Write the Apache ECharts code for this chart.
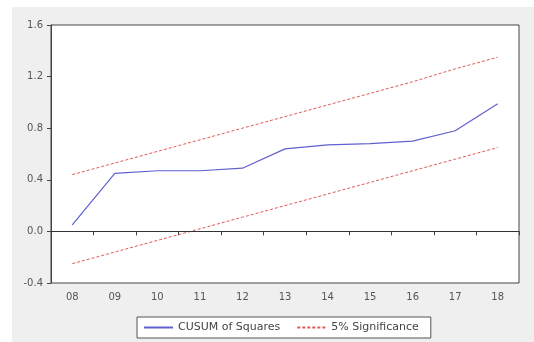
<!DOCTYPE html>
<html><head><meta charset="utf-8">
<script src="https://cdn.jsdelivr.net/npm/echarts@6/dist/echarts.min.js"></script>
<style>html,body{margin:0;padding:0;background:#fff;}#c{width:534px;height:342px;}</style>
</head><body><div id="c"></div>
<script>
const categories = ['08','09','10','11','12','13','14','15','16','17','18'];
const cusumSq = [0.05,0.45,0.47,0.47,0.49,0.64,0.67,0.68,0.70,0.78,0.99];
const upper = [0.44,0.53,0.62,0.71,0.80,0.89,0.98,1.07,1.16,1.26,1.35];
const lower = [-0.25,-0.16,-0.07,0.02,0.11,0.20,0.29,0.38,0.47,0.56,0.65];
const yTicks = {min:-0.4, max:1.6, interval:0.4};

const chart = echarts.init(document.getElementById('c'));
const font = 'DejaVu Sans, Verdana, sans-serif';
chart.setOption({
  animation:false,
  graphic:[{type:'rect',left:12,top:7,shape:{width:522,height:335},style:{fill:'#efefef'},z:-10}],
  grid:{left:51,right:15,top:25,bottom:59,show:true,backgroundColor:'#fff',borderColor:'#444',borderWidth:1},
  xAxis:{type:'category',data:categories,boundaryGap:true,
    axisLine:{lineStyle:{color:'#444',width:1}},
    axisTick:{show:true,inside:false,length:4,lineStyle:{color:'#444'}},
    axisLabel:{color:'#555',fontSize:10,fontFamily:font,margin:9}},
  yAxis:{type:'value',min:yTicks.min,max:yTicks.max,interval:yTicks.interval,
    axisLine:{show:true,lineStyle:{color:'#444',width:1}},
    axisTick:{show:true,inside:false,length:4,lineStyle:{color:'#444'}},
    splitLine:{show:false},
    axisLabel:{color:'#555',fontSize:10,fontFamily:font,margin:8,formatter:v=>v.toFixed(1)}},
  legend:{left:137,top:317,padding:[5,12,5,6],itemGap:16,
    borderColor:'#555',borderWidth:1,backgroundColor:'#fff',itemWidth:29,itemHeight:12,
    itemStyle:{opacity:0},
    textStyle:{fontSize:11,fontFamily:font,color:'#444'},
    data:['CUSUM of Squares','5% Significance']},
  series:[
    {name:'CUSUM of Squares',type:'line',data:cusumSq,symbol:'none',
      lineStyle:{color:'#6060d0',width:1.2},itemStyle:{color:'#6060d0'},
      markLine:{silent:true,symbol:'none',label:{show:false},lineStyle:{color:'#333',type:'solid',width:1},data:[{yAxis:0}]}},
    {name:'5% Significance',type:'line',data:upper,symbol:'none',
      lineStyle:{color:'#e05a5a',width:1,type:[3,2]},itemStyle:{color:'#e05a5a'}},
    {name:'5% Significance',type:'line',data:lower,symbol:'none',
      lineStyle:{color:'#e05a5a',width:1,type:[3,2]},itemStyle:{color:'#e05a5a'}}
  ]
});
</script></body></html>
